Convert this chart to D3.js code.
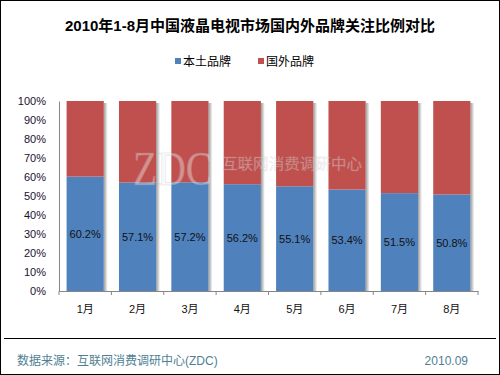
<!DOCTYPE html>
<html lang="zh">
<head>
<meta charset="UTF-8">
<title>2010年1-8月中国液晶电视市场国内外品牌关注比例对比</title>
<script src="https://cdn.jsdelivr.net/npm/d3@7"></script>
<style>
  body { margin: 0; background: #fff; }
  text { font-family: "Liberation Sans", "Noto Sans CJK SC", sans-serif; }
</style>
</head>
<body>
<div id="chart"></div>
<script>
const months = ['1月', '2月', '3月', '4月', '5月', '6月', '7月', '8月']
const domestic = [60.2, 57.1, 57.2, 56.2, 55.1, 53.4, 51.5, 50.8]
const foreign = domestic.map(d => +(100 - d).toFixed(1))
const seriesNames = ['本土品牌', '国外品牌']
const seriesColors = ['#4F81BD', '#C0504D']
const yTicks = [0, 10, 20, 30, 40, 50, 60, 70, 80, 90, 100]

const width = 500, height = 375
const plot = { left: 59, right: 478, top: 101, bottom: 291 }

const svg = d3.select('#chart').append('svg')
    .attr('width', width)
    .attr('height', height)

// frame
svg.append('rect')
    .attr('x', 0.5).attr('y', 0.5)
    .attr('width', width - 1).attr('height', height - 1)
    .attr('fill', '#fff').attr('stroke', '#000')

svg.append('text')
    .attr('x', 250).attr('y', 31)
    .attr('text-anchor', 'middle')
    .style('font-size', '15px').style('font-weight', 'bold')
    .text('2010年1-8月中国液晶电视市场国内外品牌关注比例对比')

// legend
const legend = svg.append('g')
const legendX = [175, 258]
seriesNames.forEach((name, i) => {
    legend.append('rect')
        .attr('x', legendX[i]).attr('y', 58)
        .attr('width', 6).attr('height', 6)
        .attr('fill', seriesColors[i])
    legend.append('text')
        .attr('x', legendX[i] + 8).attr('y', 66)
        .style('font-size', '12px')
        .text(name)
})

const x = d3.scaleBand()
    .domain(months)
    .range([plot.left, plot.right])
    .paddingInner(0.29)
    .paddingOuter(0.145)

const y = d3.scaleLinear()
    .domain([0, 100])
    .range([plot.bottom, plot.top])

const rows = months.map((m, i) => ({ month: m, domestic: domestic[i], foreign: foreign[i] }))
const stacked = d3.stack().keys(['domestic', 'foreign'])(rows)

const defs = svg.append('defs')
const grad = defs.append('linearGradient').attr('id', 'shade')
grad.append('stop').attr('offset', '0%').attr('stop-color', '#9a9a9a')
grad.append('stop').attr('offset', '100%').attr('stop-color', '#fff')

// shadows
svg.append('g').selectAll('rect')
    .data(rows)
    .join('rect')
    .attr('x', d => x(d.month) + x.bandwidth())
    .attr('y', y(100) + 2)
    .attr('width', 4)
    .attr('height', y(0) - y(100) - 2)
    .attr('fill', 'url(#shade)')

svg.append('g').selectAll('g')
    .data(stacked)
    .join('g')
    .attr('fill', (d, i) => seriesColors[i])
    .selectAll('rect')
    .data(d => d)
    .join('rect')
    .attr('x', d => x(d.data.month))
    .attr('y', d => y(d[1]))
    .attr('width', x.bandwidth())
    .attr('height', d => y(d[0]) - y(d[1]))

// watermark
const wm = svg.append('g').attr('opacity', 0.4)
wm.append('text')
    .attr('x', 133).attr('y', 185)
    .style('font-family', '"Liberation Serif", serif')
    .style('font-size', '48px')
    .attr('textLength', 79).attr('lengthAdjust', 'spacingAndGlyphs')
    .attr('fill', '#f2f2f2')
    .attr('stroke', '#aaa').attr('stroke-width', 0.5)
    .text('ZDC')
wm.append('text')
    .attr('x', 222).attr('y', 169)
    .style('font-size', '15px')
    .attr('textLength', 140).attr('lengthAdjust', 'spacingAndGlyphs')
    .attr('fill', '#f2f2f2')
    .attr('stroke', '#aaa').attr('stroke-width', 0.3)
    .text('互联网消费调研中心')

// value labels
svg.append('g').selectAll('text')
    .data(stacked[0])
    .join('text')
    .attr('x', d => x(d.data.month) + x.bandwidth() / 2)
    .attr('y', d => y((d[0] + d[1]) / 2) + 4)
    .attr('text-anchor', 'middle')
    .style('font-size', '11px')
    .attr('fill', '#111')
    .text(d => d.data.domestic.toFixed(1) + '%')

// y axis
const yAxis = svg.append('g')
    .attr('transform', `translate(${plot.left},0)`)
    .call(d3.axisLeft(y).tickValues(yTicks).tickSize(0).tickPadding(13).tickFormat(d => d + '%'))
yAxis.select('.domain').attr('stroke', '#868686')
yAxis.selectAll('text').style('font-size', '11px').attr('fill', '#1a1030')

// x axis
const xAxis = svg.append('g')
    .attr('transform', `translate(0,${plot.bottom})`)
    .call(d3.axisBottom(x).tickSize(0).tickPadding(14))
xAxis.select('.domain').attr('stroke', '#868686')
xAxis.selectAll('text').style('font-size', '11px').attr('fill', '#111')

const boundaries = d3.range(months.length + 1).map(i => plot.left + i * (plot.right - plot.left) / months.length)
xAxis.append('g').selectAll('line')
    .data(boundaries)
    .join('line')
    .attr('x1', d => d).attr('x2', d => d)
    .attr('y1', 0).attr('y2', 4)
    .attr('stroke', '#868686')

// footer
svg.append('line')
    .attr('x1', 4).attr('x2', 496)
    .attr('y1', 338.5).attr('y2', 338.5)
    .attr('stroke', '#000')

svg.append('text')
    .attr('x', 17).attr('y', 365)
    .style('font-size', '12px')
    .attr('fill', '#4f7f93')
    .text('数据来源：互联网消费调研中心(ZDC)')

svg.append('text')
    .attr('x', 468).attr('y', 365)
    .attr('text-anchor', 'end')
    .style('font-size', '12px')
    .attr('fill', '#4f7f93')
    .text('2010.09')
</script>
</body>
</html>
